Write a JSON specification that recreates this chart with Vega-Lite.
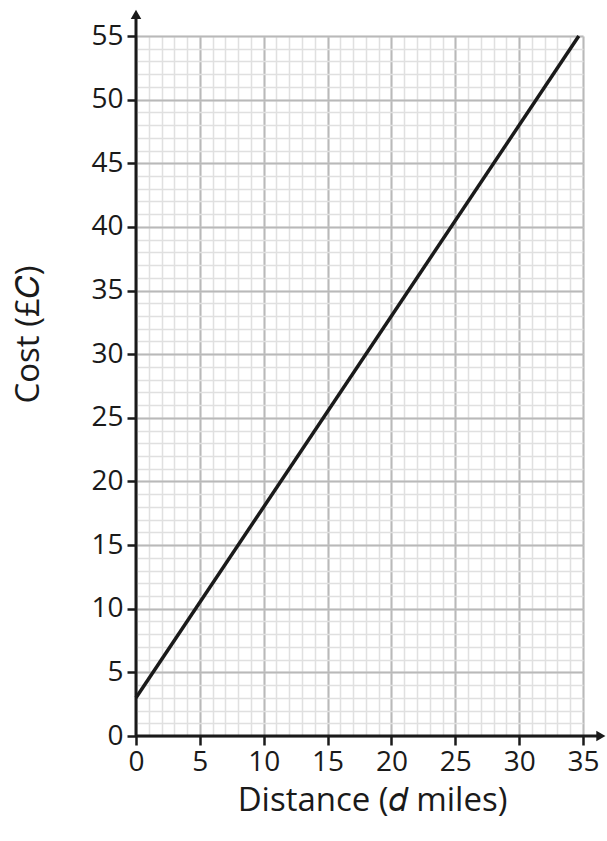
{
  "$schema": "https://vega.github.io/schema/vega-lite/v6.json",
  "width": 447,
  "height": 700,
  "autosize": {"type": "none"},
  "padding": {"left": 136, "top": 36, "right": 24, "bottom": 105},
  "config": {
    "view": {"stroke": null},
    "font": "Open Sans",
    "axis": {"labelFont": "Open Sans", "titleFont": "Open Sans", "labelColor": "#1a1a1a", "titleColor": "#1a1a1a", "titleFontWeight": "normal", "labelFlush": false}
  },
  "datasets": {
    "line": [{"d": 0, "cost": 3}, {"d": 34.67, "cost": 55}],
    "axes": [{"x": 0, "y": 0, "x2": 0, "y2": 56.6}, {"x": 0, "y": 0, "x2": 36.3, "y2": 0}],
    "arrows": [{"x": 0, "y": 56.7, "shape": "triangle-up"}, {"x": 36.4, "y": 0, "shape": "triangle-right"}]
  },
  "layer": [
    {
      "data": {"name": "line"},
      "mark": {"type": "point", "opacity": 0},
      "encoding": {
        "x": {"field": "d", "type": "quantitative", "scale": {"domain": [0, 35], "nice": false, "zero": false},
          "axis": {"orient": "top", "values": [0,1,2,3,4,5,6,7,8,9,10,11,12,13,14,15,16,17,18,19,20,21,22,23,24,25,26,27,28,29,30,31,32,33,34,35], "grid": true, "gridColor": "#e0e0e0", "gridWidth": 1.5, "labels": false, "ticks": false, "domain": false, "title": null}},
        "y": {"field": "cost", "type": "quantitative", "scale": {"domain": [0, 55], "nice": false, "zero": false},
          "axis": {"orient": "right", "values": [0,1,2,3,4,5,6,7,8,9,10,11,12,13,14,15,16,17,18,19,20,21,22,23,24,25,26,27,28,29,30,31,32,33,34,35,36,37,38,39,40,41,42,43,44,45,46,47,48,49,50,51,52,53,54,55], "grid": true, "gridColor": "#e0e0e0", "gridWidth": 1.5, "labels": false, "ticks": false, "domain": false, "title": null}}
      }
    },
    {
      "data": {"name": "line"},
      "mark": {"type": "point", "opacity": 0},
      "encoding": {
        "x": {"field": "d", "type": "quantitative",
          "axis": {"orient": "bottom", "values": [0,5,10,15,20,25,30,35], "grid": true, "gridColor": "#b9b9b9", "gridWidth": 2, "domain": false, "ticks": true, "tickColor": "#1a1a1a", "tickWidth": 2.5, "tickSize": 9, "labelFontSize": 28, "labelPadding": 3, "labelFlush": false, "title": "Distance (𝑑 miles)", "titleFontSize": 33, "titlePadding": 8, "titleX": 236}},
        "y": {"field": "cost", "type": "quantitative",
          "axis": {"orient": "left", "values": [0,5,10,15,20,25,30,35,40,45,50,55], "grid": true, "gridColor": "#b9b9b9", "gridWidth": 2, "domain": false, "ticks": true, "tickColor": "#1a1a1a", "tickWidth": 2.5, "tickSize": 9, "labelFontSize": 28, "labelPadding": 4, "labelFlush": false, "title": "Cost (£𝐶)", "titleFontSize": 33, "titlePadding": 45, "titleY": 298}}
      }
    },
    {
      "data": {"name": "axes"},
      "mark": {"type": "rule", "color": "#1a1a1a", "strokeWidth": 3},
      "encoding": {
        "x": {"field": "x", "type": "quantitative", "axis": null},
        "y": {"field": "y", "type": "quantitative", "axis": null},
        "x2": {"field": "x2"},
        "y2": {"field": "y2"}
      }
    },
    {
      "data": {"name": "arrows"},
      "mark": {"type": "point", "filled": true, "color": "#1a1a1a", "opacity": 1, "size": 110},
      "encoding": {
        "x": {"field": "x", "type": "quantitative", "axis": null},
        "y": {"field": "y", "type": "quantitative", "axis": null},
        "shape": {"field": "shape", "type": "nominal", "scale": null}
      }
    },
    {
      "data": {"name": "line"},
      "mark": {"type": "line", "color": "#1a1a1a", "strokeWidth": 3.5},
      "encoding": {
        "x": {"field": "d", "type": "quantitative", "axis": null},
        "y": {"field": "cost", "type": "quantitative", "axis": null}
      }
    }
  ],
  "resolve": {"axis": {"x": "independent", "y": "independent"}}
}
